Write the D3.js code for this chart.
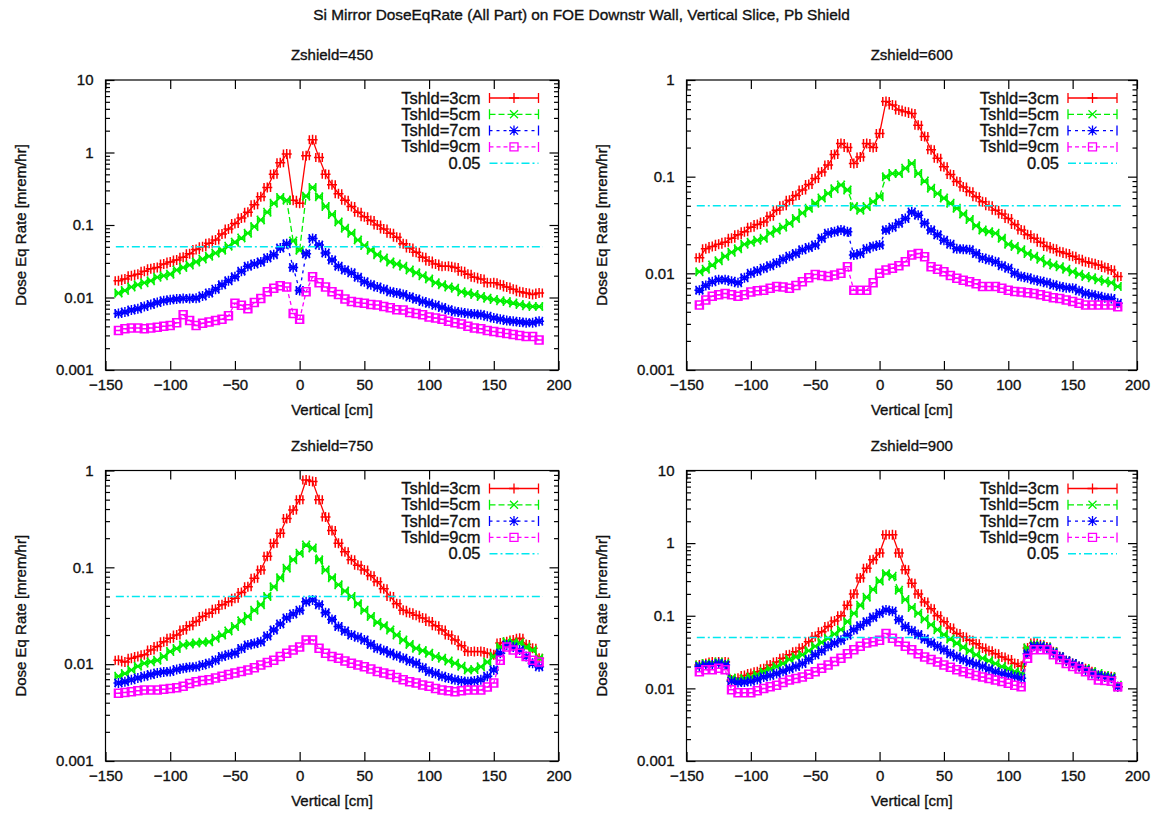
<!DOCTYPE html>
<html>
<head>
<meta charset="utf-8">
<script src="https://cdn.jsdelivr.net/npm/d3@7"></script>
<style>
body { margin: 0; background: #fff; }
text { font-family: "Liberation Sans", Arial, Helvetica, sans-serif; font-size: 15px; fill: #111; stroke: #111; stroke-width: 0.35px; }
text.legend { font-size: 16.5px; }
</style>
</head>
<body>
<svg id="chart" width="1163" height="813"></svg>
<script>
// ---- data ----
var mainTitle = "Si Mirror DoseEqRate (All Part) on FOE Downstr Wall, Vertical Slice, Pb Shield";
var panelTitles = ["Zshield=450", "Zshield=600", "Zshield=750", "Zshield=900"];
var seriesNames = ["Tshld=3cm", "Tshld=5cm", "Tshld=7cm", "Tshld=9cm"];
var limitValue = 0.05;
var limitLabel = "0.05";
var limitRange = [-142, 188];
var xLabel = "Vertical [cm]";
var yLabel = "Dose Eq Rate [mrem/hr]";
var xTicks = [-150, -100, -50, 0, 50, 100, 150, 200];
var yTicks4 = [0.001, 0.01, 0.1, 1, 10];
var yTickLabels4 = ["0.001", "0.01", "0.1", "1", "10"];
var yTicks3 = [0.001, 0.01, 0.1, 1];
var yTickLabels3 = ["0.001", "0.01", "0.1", "1"];
var xErr = 2.5;   // half bin width in cm

var xs = [-140,-135,-130,-125,-120,-115,-110,-105,-100,-95,-90,
  -85,-80,-75,-70,-65,-60,-55,-50,-45,-40,-35,
  -30,-25,-20,-15,-10,-5,0,5,10,15,20,
  25,30,35,40,45,50,55,60,65,70,75,
  80,85,90,95,100,105,110,115,120,125,130,
  135,140,145,150,155,160,165,170,175,180,185];

// Zshield=450
var z450_t3 = [0.017,0.018,0.02,0.021,0.023,0.025,0.026,0.029,0.031,0.033,0.036,
  0.040,0.046,0.050,0.056,0.062,0.075,0.088,0.105,0.125,0.15,0.19,
  0.245,0.33,0.5,0.72,0.95,0.22,0.2,0.9,1.5,0.85,0.5,
  0.36,0.27,0.22,0.18,0.15,0.13,0.115,0.1,0.088,0.077,0.068,
  0.055,0.048,0.042,0.036,0.032,0.029,0.027,0.027,0.026,0.023,0.021,
  0.019,0.018,0.016,0.016,0.015,0.014,0.013,0.012,0.0115,0.011,0.0115];
var z450_t5 = [0.0115,0.0125,0.014,0.015,0.016,0.017,0.019,0.02,0.021,0.024,0.026,
  0.028,0.031,0.034,0.037,0.041,0.045,0.051,0.058,0.066,0.077,0.095,
  0.117,0.15,0.2,0.24,0.22,0.06,0.045,0.25,0.33,0.245,0.18,
  0.14,0.11,0.09,0.077,0.062,0.052,0.045,0.039,0.035,0.031,0.029,
  0.027,0.024,0.022,0.02,0.018,0.016,0.015,0.014,0.0134,0.012,0.0115,
  0.011,0.0103,0.0098,0.0094,0.009,0.0088,0.0084,0.008,0.0077,0.0075,0.0075];
var z450_t7 = [0.006,0.0063,0.0067,0.007,0.0075,0.008,0.0085,0.009,0.0093,0.0095,0.0097,
  0.0097,0.0098,0.0105,0.0115,0.013,0.015,0.017,0.0193,0.023,0.027,0.029,
  0.031,0.035,0.039,0.048,0.055,0.026,0.0125,0.04,0.065,0.053,0.041,
  0.033,0.027,0.024,0.022,0.019,0.0165,0.015,0.014,0.013,0.012,0.0115,
  0.011,0.0102,0.0095,0.0088,0.0083,0.0078,0.0073,0.0068,0.0064,0.0062,0.006,
  0.0059,0.0058,0.0055,0.0052,0.005,0.0048,0.0047,0.0046,0.0045,0.0045,0.0047];
var z450_t9 = [0.0035,0.0037,0.0038,0.0038,0.0037,0.0038,0.0039,0.004,0.0041,0.0045,0.0058,
  0.0048,0.0041,0.0044,0.0046,0.0048,0.005,0.0056,0.0083,0.0078,0.007,0.0085,
  0.0097,0.012,0.0134,0.0145,0.014,0.006,0.005,0.012,0.0193,0.016,0.014,
  0.012,0.011,0.0095,0.0088,0.0085,0.0083,0.008,0.0079,0.0075,0.0072,0.0068,
  0.0067,0.0062,0.006,0.0058,0.0054,0.0052,0.005,0.0047,0.0045,0.0043,0.004,
  0.0038,0.0037,0.0035,0.0034,0.0033,0.0032,0.0031,0.003,0.0029,0.0029,0.0026];

// Zshield=600
var z600_t3 = [0.0145,0.018,0.019,0.02,0.021,0.023,0.025,0.027,0.03,0.032,0.034,
  0.039,0.045,0.05,0.057,0.064,0.073,0.083,0.096,0.112,0.132,0.17,
  0.22,0.2,0.137,0.16,0.22,0.2,0.28,0.6,0.55,0.49,0.47,
  0.45,0.34,0.26,0.19,0.155,0.127,0.105,0.089,0.078,0.07,0.062,
  0.055,0.05,0.045,0.041,0.037,0.032,0.028,0.025,0.023,0.021,0.019,
  0.018,0.0167,0.016,0.015,0.014,0.0132,0.0127,0.0122,0.0115,0.0108,0.0093];
var z600_t5 = [0.0104,0.011,0.0122,0.0135,0.015,0.0165,0.018,0.02,0.021,0.022,0.023,
  0.026,0.028,0.03,0.033,0.037,0.042,0.047,0.053,0.06,0.067,0.075,
  0.082,0.073,0.049,0.045,0.049,0.055,0.062,0.1,0.108,0.108,0.122,
  0.137,0.108,0.09,0.076,0.067,0.06,0.053,0.047,0.041,0.036,0.031,
  0.028,0.027,0.026,0.023,0.02,0.019,0.0175,0.016,0.015,0.014,0.0128,
  0.0122,0.0117,0.011,0.0104,0.0098,0.0093,0.009,0.0086,0.0083,0.008,0.0073];
var z600_t7 = [0.0067,0.0075,0.0082,0.0086,0.0086,0.0083,0.008,0.009,0.01,0.0106,0.0113,
  0.012,0.0128,0.014,0.015,0.016,0.0175,0.0185,0.0196,0.023,0.026,0.027,
  0.028,0.027,0.0155,0.016,0.018,0.019,0.0196,0.028,0.03,0.033,0.037,
  0.043,0.04,0.033,0.028,0.025,0.022,0.02,0.018,0.0178,0.0175,0.016,
  0.0144,0.0138,0.0132,0.012,0.0113,0.01,0.0093,0.009,0.0086,0.0083,0.008,
  0.0076,0.0073,0.0071,0.007,0.0066,0.0062,0.006,0.0058,0.0056,0.0055,0.0049];
var z600_t9 = [0.0047,0.0053,0.0058,0.006,0.0062,0.006,0.0058,0.006,0.0064,0.0066,0.0067,
  0.007,0.0073,0.0072,0.007,0.0075,0.0082,0.009,0.0097,0.0095,0.0093,0.0096,
  0.01,0.0117,0.0067,0.0067,0.0067,0.008,0.01,0.0108,0.0113,0.012,0.0132,
  0.0155,0.016,0.0148,0.0117,0.011,0.0104,0.0095,0.0089,0.0085,0.0082,0.0078,
  0.0073,0.0073,0.0073,0.007,0.0067,0.0065,0.0064,0.0063,0.0062,0.006,0.0058,
  0.0056,0.0055,0.0053,0.0051,0.0049,0.0047,0.0047,0.0047,0.0047,0.0047,0.0045];

// Zshield=750
var z750_t3 = [0.011,0.0105,0.0115,0.012,0.0125,0.014,0.0152,0.017,0.0185,0.02,0.0226,
  0.025,0.0276,0.031,0.0336,0.037,0.041,0.044,0.048,0.055,0.063,0.077,
  0.094,0.13,0.177,0.225,0.32,0.39,0.5,0.8,0.77,0.5,0.33,
  0.24,0.177,0.145,0.12,0.105,0.094,0.082,0.071,0.06,0.05,0.042,
  0.036,0.034,0.032,0.03,0.0276,0.025,0.0226,0.02,0.0178,0.0155,0.0135,
  0.0135,0.0135,0.013,0.0125,0.0165,0.017,0.0178,0.0185,0.016,0.0146,0.0115];
var z750_t5 = [0.0075,0.008,0.0087,0.0095,0.0102,0.0106,0.011,0.012,0.0135,0.0145,0.0158,
  0.0162,0.0165,0.0168,0.017,0.0185,0.02,0.022,0.0245,0.028,0.031,0.036,
  0.041,0.05,0.063,0.078,0.098,0.12,0.14,0.17,0.158,0.12,0.094,
  0.078,0.066,0.057,0.05,0.042,0.036,0.031,0.027,0.025,0.0226,0.02,
  0.0178,0.016,0.0146,0.0138,0.013,0.012,0.0115,0.0108,0.0102,0.0095,0.0087,
  0.0088,0.0094,0.0105,0.012,0.015,0.017,0.0168,0.0165,0.015,0.014,0.0115];
var z750_t7 = [0.0064,0.0066,0.0069,0.0072,0.0075,0.0078,0.0081,0.0083,0.0084,0.0088,0.0091,
  0.0093,0.0094,0.0098,0.0102,0.011,0.012,0.0125,0.013,0.0145,0.0158,0.0163,
  0.017,0.0195,0.0226,0.026,0.03,0.033,0.036,0.044,0.046,0.041,0.034,
  0.029,0.0245,0.022,0.02,0.019,0.0178,0.016,0.0146,0.0138,0.013,0.0122,
  0.0115,0.0108,0.0102,0.0092,0.0084,0.008,0.0075,0.0072,0.0069,0.0067,0.0066,
  0.0067,0.0069,0.0075,0.0087,0.013,0.0158,0.015,0.014,0.012,0.0102,0.0094];
var z750_t9 = [0.005,0.0051,0.0052,0.0053,0.0054,0.0054,0.0054,0.0055,0.0056,0.0057,0.0059,
  0.0063,0.0066,0.0068,0.0069,0.0072,0.0075,0.0078,0.0081,0.0084,0.0087,0.0092,
  0.0098,0.0104,0.011,0.012,0.013,0.014,0.015,0.0178,0.0178,0.0146,0.013,
  0.012,0.0115,0.0108,0.0102,0.0098,0.0094,0.0089,0.0084,0.0081,0.0078,0.0073,
  0.0069,0.0066,0.0064,0.0061,0.0059,0.0056,0.0054,0.0053,0.0052,0.0053,0.0054,
  0.0054,0.0054,0.0058,0.0064,0.011,0.015,0.014,0.013,0.012,0.011,0.0105];

// Zshield=900
var z900_t3 = [0.021,0.022,0.023,0.023,0.023,0.013,0.0138,0.015,0.016,0.017,0.0187,
  0.021,0.023,0.026,0.029,0.032,0.036,0.044,0.052,0.06,0.071,0.085,
  0.1,0.14,0.2,0.33,0.45,0.59,0.73,1.3,1.3,0.73,0.43,
  0.28,0.2,0.155,0.125,0.1,0.083,0.068,0.057,0.051,0.046,0.041,
  0.036,0.033,0.03,0.027,0.025,0.022,0.0201,0.036,0.042,0.04,0.037,
  0.032,0.0272,0.024,0.022,0.02,0.0187,0.017,0.015,0.0147,0.0144,0.0105];
var z900_t5 = [0.021,0.022,0.022,0.023,0.022,0.0138,0.013,0.0137,0.0143,0.0155,0.017,
  0.0185,0.02,0.022,0.025,0.027,0.029,0.033,0.038,0.043,0.049,0.056,
  0.064,0.083,0.108,0.14,0.18,0.23,0.3,0.38,0.35,0.225,0.167,
  0.13,0.108,0.09,0.075,0.064,0.055,0.048,0.042,0.037,0.033,0.029,
  0.026,0.024,0.022,0.02,0.0187,0.017,0.016,0.036,0.04,0.039,0.037,
  0.032,0.0272,0.024,0.022,0.02,0.0187,0.017,0.016,0.015,0.0144,0.011];
var z900_t7 = [0.02,0.021,0.021,0.022,0.021,0.0125,0.012,0.0122,0.0125,0.0133,0.0143,
  0.015,0.016,0.0172,0.0187,0.02,0.022,0.025,0.029,0.033,0.038,0.042,
  0.046,0.054,0.064,0.073,0.083,0.095,0.108,0.12,0.115,0.088,0.071,
  0.062,0.055,0.048,0.042,0.038,0.034,0.03,0.0272,0.025,0.023,0.0215,
  0.02,0.0185,0.017,0.016,0.0153,0.0145,0.0138,0.03,0.038,0.038,0.036,
  0.031,0.0272,0.024,0.022,0.02,0.0178,0.016,0.015,0.0143,0.0138,0.0105];
var z900_t9 = [0.017,0.018,0.018,0.019,0.018,0.0096,0.0087,0.0087,0.0087,0.0093,0.01,
  0.0105,0.011,0.012,0.013,0.0137,0.0143,0.0157,0.017,0.019,0.021,0.0235,
  0.026,0.03,0.034,0.038,0.042,0.044,0.046,0.057,0.049,0.044,0.038,
  0.034,0.03,0.027,0.025,0.023,0.021,0.0195,0.018,0.017,0.016,0.015,
  0.0143,0.0137,0.013,0.0124,0.0118,0.011,0.0105,0.026,0.034,0.034,0.034,
  0.029,0.025,0.022,0.02,0.0185,0.017,0.015,0.013,0.0128,0.0125,0.0105];

var panelSeries = [
  [z450_t3, z450_t5, z450_t7, z450_t9],
  [z600_t3, z600_t5, z600_t7, z600_t9],
  [z750_t3, z750_t5, z750_t7, z750_t9],
  [z900_t3, z900_t5, z900_t7, z900_t9]
];
var panelYTicks = [yTicks4, yTicks3, yTicks3, yTicks4];
var panelYLabels = [yTickLabels4, yTickLabels3, yTickLabels3, yTickLabels4];

// ---- layout & styles ----
var frames = [
  {x0: 105.5, x1: 558.5, y0: 80, y1: 370},
  {x0: 686.5, x1: 1137, y0: 80, y1: 370},
  {x0: 105.5, x1: 558.5, y0: 470.5, y1: 761},
  {x0: 686.5, x1: 1137, y0: 470.5, y1: 761}
];
var styles = [
  {color: "#ff0000", dash: null, mark: "plus"},
  {color: "#00f000", dash: "6,3", mark: "cross"},
  {color: "#0000ff", dash: "3,4", mark: "star"},
  {color: "#ff00ff", dash: "4,3", mark: "square"}
];
var limitStyle = {color: "#00e8f0", dash: "8,3,2,3"};

var svg = d3.select("#chart");

svg.append("text")
  .attr("x", 581.5).attr("y", 20)
  .attr("text-anchor", "middle")
  .style("font-size", "15.4px")
  .text(mainTitle);

// marker path for one point
function markerPath(type, cx, cy) {
  var r = 5, q = 4;
  if (type == "plus") {
    return "M" + (cx - r) + "," + cy + "h" + (2 * r) + "M" + cx + "," + (cy - r) + "v" + (2 * r);
  }
  if (type == "cross") {
    return "M" + (cx - q) + "," + (cy - q) + "l" + (2 * q) + "," + (2 * q) +
           "M" + (cx - q) + "," + (cy + q) + "l" + (2 * q) + "," + (-2 * q);
  }
  if (type == "star") {
    return markerPath("plus", cx, cy) + markerPath("cross", cx, cy);
  }
  return "M" + (cx - q) + "," + (cy - q) + "h" + (2 * q) + "v" + (2 * q) + "h" + (-2 * q) + "Z";
}

frames.forEach(function(f, pi) {
  var yt = panelYTicks[pi];
  var x = d3.scaleLinear()
            .domain([xTicks[0], xTicks[xTicks.length - 1]])
            .range([f.x0, f.x1]);
  var y = d3.scaleLog()
            .domain([yt[0], yt[yt.length - 1]])
            .range([f.y1, f.y0]);

  var g = svg.append("g");

  // minor log ticks (2..9 in each decade)
  var minor = [];
  for (var k = 0; k < yt.length - 1; k++) {
    for (var m = 2; m <= 9; m++) minor.push(yt[k] * m);
  }

  // bottom axis with labels, ticks pointing in
  g.append("g")
    .attr("transform", "translate(0," + f.y1 + ")")
    .call(d3.axisBottom(x).tickValues(xTicks).tickSize(-9).tickPadding(9).tickFormat(d3.format("d")))
    .call(function(a) { a.select(".domain").remove(); });
  // top mirror ticks
  g.append("g")
    .attr("transform", "translate(0," + f.y0 + ")")
    .call(d3.axisTop(x).tickValues(xTicks).tickSize(-9).tickFormat(""))
    .call(function(a) { a.select(".domain").remove(); });

  // left axis
  var labels = panelYLabels[pi];
  g.append("g")
    .attr("transform", "translate(" + f.x0 + ",0)")
    .call(d3.axisLeft(y).tickValues(yt).tickSize(-9).tickPadding(12)
            .tickFormat(function(d, i) { return labels[i]; }))
    .call(function(a) { a.select(".domain").remove(); });
  g.append("g")
    .attr("transform", "translate(" + f.x0 + ",0)")
    .call(d3.axisLeft(y).tickValues(minor).tickSize(-4.5).tickFormat(""))
    .call(function(a) { a.select(".domain").remove(); });
  // right mirror
  g.append("g")
    .attr("transform", "translate(" + f.x1 + ",0)")
    .call(d3.axisRight(y).tickValues(yt).tickSize(-9).tickFormat(""))
    .call(function(a) { a.select(".domain").remove(); });
  g.append("g")
    .attr("transform", "translate(" + f.x1 + ",0)")
    .call(d3.axisRight(y).tickValues(minor).tickSize(-4.5).tickFormat(""))
    .call(function(a) { a.select(".domain").remove(); });

  g.selectAll(".tick line").attr("stroke", "#000").attr("stroke-width", 1.2);

  // border
  g.append("rect")
    .attr("x", f.x0).attr("y", f.y0)
    .attr("width", f.x1 - f.x0).attr("height", f.y1 - f.y0)
    .attr("fill", "none").attr("stroke", "#000").attr("stroke-width", 1.2);

  // titles
  g.append("text")
    .attr("x", (f.x0 + f.x1) / 2).attr("y", f.y0 - 20)
    .attr("text-anchor", "middle")
    .text(panelTitles[pi]);
  g.append("text")
    .attr("x", (f.x0 + f.x1) / 2).attr("y", f.y1 + 45)
    .attr("text-anchor", "middle")
    .text(xLabel);
  g.append("text")
    .attr("transform", "translate(" + (f.x0 - 80) + "," + ((f.y0 + f.y1) / 2) + ") rotate(-90)")
    .attr("text-anchor", "middle")
    .text(yLabel);

  var line = d3.line()
               .x(function(d, i) { return x(xs[i]); })
               .y(function(d) { return y(d); });

  var legRow0 = f.y0 + 18, legStep = 16.3;
  var lx0 = f.x1 - 69, lx1 = f.x1 - 20;

  panelSeries[pi].forEach(function(vals, si) {
    var st = styles[si];
    var sg = g.append("g");

    // legend entry
    var ly = legRow0 + si * legStep;
    sg.append("text")
      .attr("class", "legend")
      .attr("x", f.x1 - 78).attr("y", ly + 5.5)
      .attr("text-anchor", "end")
      .text(seriesNames[si]);
    sg.append("path")
      .attr("d", "M" + lx0 + "," + ly + "H" + lx1)
      .attr("stroke", st.color).attr("fill", "none").attr("stroke-width", 1.3)
      .attr("stroke-dasharray", st.dash);
    sg.append("path")
      .attr("d", "M" + lx0 + "," + (ly - 5) + "v10M" + lx1 + "," + (ly - 5) + "v10" +
                 markerPath(st.mark, (lx0 + lx1) / 2, ly))
      .attr("stroke", st.color).attr("fill", "none").attr("stroke-width", 1.3);

    // connecting line
    sg.append("path")
      .datum(vals)
      .attr("d", line)
      .attr("fill", "none")
      .attr("stroke", st.color)
      .attr("stroke-width", 1.3)
      .attr("stroke-dasharray", st.dash);

    // x error bars and markers
    var d = "";
    vals.forEach(function(v, i) {
      var cy = y(v), a = x(xs[i] - xErr), b = x(xs[i] + xErr);
      d += "M" + a + "," + cy + "H" + b;
      d += "M" + a + "," + (cy - 4.5) + "v9M" + b + "," + (cy - 4.5) + "v9";
      d += markerPath(st.mark, x(xs[i]), cy);
    });
    sg.append("path")
      .attr("d", d)
      .attr("fill", "none")
      .attr("stroke", st.color)
      .attr("stroke-width", 1.5);
  });

  // 0.05 reference line
  var ly5 = legRow0 + 4 * legStep;
  g.append("text")
    .attr("class", "legend")
    .attr("x", f.x1 - 78).attr("y", ly5 + 5.5)
    .attr("text-anchor", "end")
    .text(limitLabel);
  g.append("path")
    .attr("d", "M" + lx0 + "," + ly5 + "H" + lx1)
    .attr("stroke", limitStyle.color).attr("stroke-width", 1.5)
    .attr("stroke-dasharray", limitStyle.dash);
  g.append("line")
    .attr("x1", x(limitRange[0])).attr("x2", x(limitRange[1]))
    .attr("y1", y(limitValue)).attr("y2", y(limitValue))
    .attr("stroke", limitStyle.color).attr("stroke-width", 1.5)
    .attr("stroke-dasharray", limitStyle.dash);
});
</script>
</body>
</html>
